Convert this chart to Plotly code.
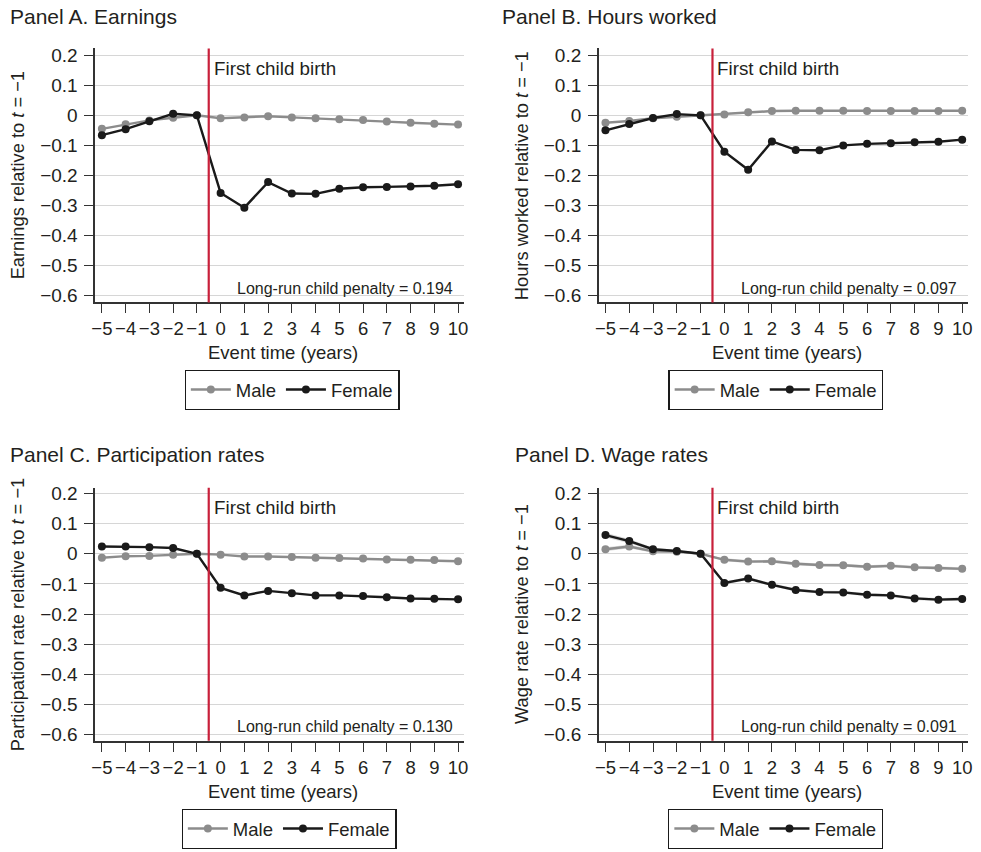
import plotly.graph_objects as go

# ---------------- data ----------------
event_time = list(range(-5, 11))
x_tick_labels = ["−5", "−4", "−3", "−2", "−1", "0", "1", "2", "3", "4", "5", "6", "7", "8", "9", "10"]
y_tick_vals = [0.2, 0.1, 0.0, -0.1, -0.2, -0.3, -0.4, -0.5, -0.6]
y_tick_labels = ["0.2", "0.1", "0", "−0.1", "−0.2", "−0.3", "−0.4", "−0.5", "−0.6"]

earn_male = [-0.045, -0.030, -0.017, -0.008, 0.0, -0.010, -0.007, -0.003, -0.007, -0.010, -0.013, -0.016, -0.021, -0.025, -0.028, -0.031]
earn_female = [-0.066, -0.046, -0.020, 0.005, 0.0, -0.258, -0.307, -0.222, -0.260, -0.261, -0.244, -0.239, -0.238, -0.237, -0.234, -0.229]

hours_male = [-0.025, -0.019, -0.010, -0.005, 0.0, 0.003, 0.010, 0.014, 0.015, 0.015, 0.015, 0.014, 0.014, 0.014, 0.014, 0.015]
hours_female = [-0.050, -0.029, -0.009, 0.004, 0.0, -0.121, -0.181, -0.087, -0.115, -0.116, -0.100, -0.095, -0.093, -0.090, -0.088, -0.081]

part_male = [-0.013, -0.008, -0.007, -0.003, 0.0, -0.003, -0.009, -0.009, -0.011, -0.013, -0.014, -0.016, -0.019, -0.020, -0.021, -0.025]
part_female = [0.024, 0.024, 0.022, 0.019, 0.0, -0.113, -0.138, -0.123, -0.131, -0.138, -0.138, -0.140, -0.144, -0.148, -0.149, -0.151]

wage_male = [0.015, 0.024, 0.008, 0.007, 0.0, -0.020, -0.026, -0.025, -0.033, -0.037, -0.038, -0.043, -0.040, -0.045, -0.047, -0.050]
wage_male_hi = [0.022, 0.030, 0.013, 0.011, 0.0, -0.015, -0.021, -0.020, -0.028, -0.032, -0.033, -0.038, -0.035, -0.040, -0.042, -0.045]
wage_male_lo = [0.008, 0.018, 0.003, 0.003, 0.0, -0.025, -0.031, -0.030, -0.038, -0.042, -0.043, -0.048, -0.045, -0.050, -0.052, -0.055]
wage_female = [0.062, 0.042, 0.015, 0.009, 0.0, -0.097, -0.082, -0.103, -0.120, -0.127, -0.128, -0.136, -0.138, -0.148, -0.152, -0.150]
wage_female_hi = [0.070, 0.049, 0.020, 0.013, 0.0, -0.092, -0.077, -0.098, -0.115, -0.122, -0.123, -0.131, -0.133, -0.143, -0.147, -0.145]
wage_female_lo = [0.054, 0.035, 0.010, 0.005, 0.0, -0.102, -0.087, -0.108, -0.125, -0.132, -0.133, -0.141, -0.143, -0.153, -0.157, -0.155]

panel_titles = ["Panel A. Earnings", "Panel B. Hours worked", "Panel C. Participation rates", "Panel D. Wage rates"]
y_titles = [
    "Earnings relative to <i>t</i> = −1",
    "Hours worked relative to <i>t</i> = −1",
    "Participation rate relative to <i>t</i> = −1",
    "Wage rate relative to <i>t</i> = −1",
]
penalty_texts = [
    "Long-run child penalty = 0.194",
    "Long-run child penalty = 0.097",
    "Long-run child penalty = 0.130",
    "Long-run child penalty = 0.091",
]
event_label = "First child birth"
event_line_x = -0.5
x_title = "Event time (years)"
series_names = ["Male", "Female"]

male_series = [earn_male, hours_male, part_male, wage_male]
female_series = [earn_female, hours_female, part_female, wage_female]

# ---------------- layout helpers ----------------
W, H = 981, 852
FONT = "Liberation Sans, Arial, Helvetica, sans-serif"
TXT = "#231f20"
MALE_C = "#8c8c8c"
FEMALE_C = "#1a1a1a"
RED = "#c8203a"

# pixel boxes: (left, right, top, bottom)
boxes = [
    (92, 464, 44, 301),
    (599.7, 972.3, 44, 301),
    (92, 464, 488.5, 744.5),
    (599.7, 972.3, 488.5, 744.5),
]
y_ranges = [[-0.622, 0.222], [-0.622, 0.222], [-0.6197, 0.2187], [-0.6197, 0.2187]]
title_pos = [(4, 12), (500, 12), (4, 455), (513, 455)]
ytitle_x = [14, 522, 13, 522]
legend_centers = [(290.5, 389.3), (778.3, 389.3), (287.5, 833.5), (778, 833.5)]
xtitle_y = [352, 352, 796, 796]

fig = go.Figure()
layout = dict(
    width=W, height=H,
    margin=dict(l=0, r=0, t=0, b=0),
    paper_bgcolor="white", plot_bgcolor="white",
    font=dict(family=FONT, size=18, color=TXT),
    showlegend=True,
    annotations=[], shapes=[],
)

for i in range(4):
    n = "" if i == 0 else str(i + 1)
    xa, ya = "x" + n, "y" + n
    leg = "legend" + n
    l, r, t, b = boxes[i]

    if i == 3:
        for hi, lo in [(wage_male_hi, wage_male_lo), (wage_female_hi, wage_female_lo)]:
            fig.add_trace(go.Scatter(x=event_time, y=hi, mode="lines", line=dict(width=0),
                                     showlegend=False, hoverinfo="skip", xaxis=xa, yaxis=ya, legend=leg))
            fig.add_trace(go.Scatter(x=event_time, y=lo, mode="lines", line=dict(width=0),
                                     fill="tonexty", fillcolor="rgba(150,150,150,0.35)",
                                     showlegend=False, hoverinfo="skip", xaxis=xa, yaxis=ya, legend=leg))

    fig.add_trace(go.Scatter(
        x=event_time, y=male_series[i], mode="lines+markers", name=series_names[0],
        line=dict(color=MALE_C, width=2.4), marker=dict(color=MALE_C, size=8),
        xaxis=xa, yaxis=ya, legend=leg, legendrank=1))
    fig.add_trace(go.Scatter(
        x=event_time, y=female_series[i], mode="lines+markers", name=series_names[1],
        line=dict(color=FEMALE_C, width=2.4), marker=dict(color=FEMALE_C, size=8),
        xaxis=xa, yaxis=ya, legend=leg, legendrank=2))

    layout["xaxis" + n] = dict(
        domain=[l / W, r / W], anchor=ya, range=[-5.28, 10.26],
        tickvals=event_time, ticktext=x_tick_labels, tickangle=0,
        showline=True, linecolor="#333333", linewidth=1.5,
        ticks="outside", ticklen=9, tickwidth=1.3, tickcolor="#333333",
        showgrid=False, zeroline=False, tickfont=dict(size=18.5, color=TXT),
        fixedrange=True,
    )
    layout["yaxis" + n] = dict(
        domain=[1 - b / H, 1 - t / H], anchor=xa, range=y_ranges[i],
        tickvals=y_tick_vals, ticktext=y_tick_labels,
        showline=True, linecolor="#333333", linewidth=1.5,
        ticks="outside", ticklen=9, tickwidth=1.3, tickcolor="#333333",
        showgrid=True, gridcolor="#d6d6d6", gridwidth=1.2,
        zeroline=False, tickfont=dict(size=19, color=TXT), ticklabelstandoff=3,
        fixedrange=True,
    )
    lx, ly = legend_centers[i]
    layout[leg] = dict(
        x=lx / W, y=1 - ly / H, xanchor="center", yanchor="middle",
        orientation="h", bordercolor="#1a1a1a", borderwidth=1.2,
        bgcolor="white", font=dict(size=18.5, color=TXT),
        itemwidth=40, tracegroupgap=0, traceorder="normal",
    )

    layout["shapes"].append(dict(
        type="line", xref=xa, yref=ya + " domain", x0=event_line_x, x1=event_line_x,
        y0=0, y1=1, line=dict(color=RED, width=2.2)))

    tx, ty = title_pos[i]
    layout["annotations"].append(dict(
        text=panel_titles[i], xref="paper", yref="paper", x=tx / W, y=1 - ty / H,
        xanchor="left", yanchor="middle", showarrow=False, font=dict(size=21, color=TXT)))
    layout["annotations"].append(dict(
        text=y_titles[i], xref="paper", yref="paper", x=ytitle_x[i] / W,
        y=1 - ((t + b) / 2) / H, xanchor="center", yanchor="middle", textangle=-90,
        showarrow=False, font=dict(size=18.3, color=TXT)))
    layout["annotations"].append(dict(
        text=x_title, xref="paper", yref="paper", x=((l + r) / 2 + 3) / W, y=1 - xtitle_y[i] / H,
        xanchor="center", yanchor="middle", showarrow=False, font=dict(size=18.5, color=TXT)))
    layout["annotations"].append(dict(
        text=event_label, xref=xa, yref=ya + " domain", x=event_line_x, y=(b - (t + 20)) / (b - t),
        xanchor="left", yanchor="middle", xshift=3, showarrow=False,
        font=dict(size=18.8, color=TXT)))
    layout["annotations"].append(dict(
        text=penalty_texts[i], xref=xa, yref=ya + " domain", x=10, y=(b - (b - 14)) / (b - t),
        xanchor="right", yanchor="middle", xshift=-3, showarrow=False,
        font=dict(size=16, color=TXT)))

fig.update_layout(**layout)
fig.write_html(
    "out.html",
    config={"displayModeBar": False},
    post_script="document.body.style.margin='0';document.body.style.padding='0';document.body.style.overflow='hidden';",
)
